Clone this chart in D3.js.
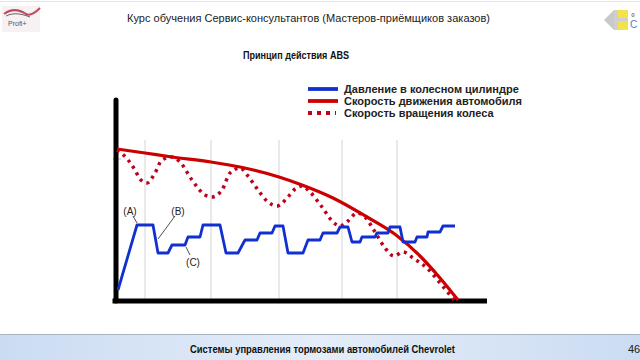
<!DOCTYPE html>
<html><head><meta charset="utf-8">
<script src="https://cdn.jsdelivr.net/npm/d3@7"></script>
<style>html,body{margin:0;padding:0;background:#fff;overflow:hidden}svg{display:block}</style>
</head><body>
<svg id="c" width="640" height="360"></svg>
<script>
// ---- Data (time units, value units) ----
const headerText = "Курс обучения Сервис-консультантов (Мастеров-приёмщиков заказов)";
const chartTitle = "Принцип действия ABS";
const footerText = "Системы управления тормозами автомобилей Chevrolet";
const pageNumber = "46";
const seriesNames = ["Давление в колесном цилиндре", "Скорость движения автомобиля", "Скорость вращения колеса"];

const pressureT = [0.1,2.0,3.6,4.1,5.1,5.5,6.8,7.1,8.3,8.6,10.3,10.9,12.1,12.8,14.0,14.3,15.5,15.8,16.6,17.1,18.6,19.1,20.3,20.6,22.0,22.3,23.1,23.5,24.3,24.5,25.8,26.0,27.1,27.3,28.3,28.6,29.8,30.0,31.0,31.1,32.3,32.6,33.8];
const pressureV = [5,37.5,37.5,23.5,23.5,27.5,27.5,31.5,31.5,37.5,37.5,23.5,23.5,30,30,33.5,33.5,37,37,23.5,23.5,30,30,33.5,33.5,36.5,36.5,29,29,31.5,31.5,33.5,33.5,36.5,36.5,29,29,31.5,31.5,34,34,37,37];

const vehicleT = [0,2.8,5.5,9.4,12.3,16.2,18.5,21.6,25.0,27.9,30.3,32.3,34.1];
const vehicleV = [75.5,73.5,71.5,69,66.5,61.5,57.5,51,41.5,32.5,22,11,0];

const wheelT = [0,0.3,1.8,2.3,3.0,3.8,4.5,5.5,6.3,7.5,8.8,9.5,10.5,11.3,12.3,13.1,14.1,15.1,16.0,17.1,17.8,18.5,19.3,20.5,21.6,22.3,23.1,24.0,24.8,25.8,26.8,27.7,28.6,29.6,31.0,32.3,33.7];
const wheelV = [75,74,65,60.5,58.5,63.5,70,71.5,69,60,52.5,51.5,55,63.5,66,62,55,49,47,51.5,55.5,57,54,46.5,39,37,39.5,43.5,41.5,34,26,22,24,21,16,8.5,0];

const gridT = [2.8,9.4,16.2,22.5,28.0];
const annLabels = ["(A)","(B)","(C)"];
const annTextT = [1.3,6.1,7.6];
const annTextV = [44.5,44.5,19];
const annLineT1 = [1.6,5.8,7.3], annLineV1 = [42,42,22.5];
const annLineT2 = [2.0,4.1,6.9], annLineV2 = [38.5,30.5,26.5];

// ---- Drawing ----
const svg = d3.select("#c");
const x = d3.scaleLinear().domain([0,37]).range([117,487]);
const y = d3.scaleLinear().domain([0,100]).range([300,100]);
const FONT = "'Liberation Sans', Arial, sans-serif";

// header
svg.append("line").attr("x1",0).attr("x2",640).attr("y1",1.5).attr("y2",1.5).attr("stroke","#e4e4e4");
svg.append("text").attr("x",127).attr("y",22)
  .attr("font-family",FONT).attr("font-size",11.5).attr("fill","#222")
  .attr("textLength",363).attr("lengthAdjust","spacingAndGlyphs").text(headerText);
// left logo
const lg = svg.append("g");
lg.append("rect").attr("x",2).attr("y",6).attr("width",38).attr("height",26).attr("fill","#f6f2f4");
lg.append("path").attr("d","M4,14 C12,8 20,10 26,14 C30,16 36,12 40,8").attr("fill","none").attr("stroke","#c2475f").attr("stroke-width",2);
lg.append("path").attr("d","M6,16 C14,12 22,14 30,17").attr("fill","none").attr("stroke","#666").attr("stroke-width",1);
lg.append("text").attr("x",8).attr("y",26).attr("font-family",FONT).attr("font-size",7).attr("fill","#555").text("Profi+");
// right logo
const rg = svg.append("g");
rg.append("path").attr("d","M604,20 L614,10 L614,30 Z").attr("fill","#c9c9c9");
rg.append("rect").attr("x",614).attr("y",10).attr("width",14).attr("height",20).attr("fill","#cfcfcf");
rg.append("rect").attr("x",618).attr("y",10).attr("width",10).attr("height",8).attr("fill","#f2e34a");
rg.append("rect").attr("x",618).attr("y",21).attr("width",10).attr("height",9).attr("fill","#f2e34a");
rg.append("text").attr("x",631).attr("y",17).attr("font-family",FONT).attr("font-size",5).attr("fill","#666").text("Ф");
rg.append("text").attr("x",630).attr("y",28).attr("font-family",FONT).attr("font-size",10).attr("fill","#4a7fc0").text("C");

// title
svg.append("text").attr("x",243).attr("y",59)
  .attr("font-family",FONT).attr("font-weight","bold").attr("font-size",11).attr("fill","#111")
  .attr("textLength",106).attr("lengthAdjust","spacingAndGlyphs").text(chartTitle);

// gridlines
svg.append("g").selectAll("line").data(gridT).join("line")
  .attr("x1",d=>x(d)).attr("x2",d=>x(d)).attr("y1",y(80)).attr("y2",y(0))
  .attr("stroke","#d4d4d4").attr("stroke-width",1);

// small plus mark on axis
svg.append("path").attr("d",`M${x(0)-4},${y(70.5)} h8 M${x(0)},${y(70.5)-4} v8`).attr("stroke","#bbb").attr("stroke-width",1);

// axes
const xAxis = d3.axisBottom(x).tickValues([]).tickSizeOuter(0);
const yAxis = d3.axisLeft(y).tickValues([]).tickSizeOuter(0);
const gx = svg.append("g").attr("transform",`translate(0,${y(0)+1})`).call(xAxis);
gx.select(".domain").attr("stroke","#000").attr("stroke-width",5).attr("d",`M${x(-0.45)},0H${x(37)}`);
const gy = svg.append("g").attr("transform",`translate(-1,0)`).call(yAxis);
gy.select(".domain").attr("stroke","#000").attr("stroke-width",5).attr("stroke-linecap","round").attr("d",`M${x(0)},${y(100)}V${y(0)+1}`);

// lines
const line = (T,V,curve) => d3.line().x((d,i)=>x(T[i])).y((d,i)=>y(V[i])).curve(curve)(T);
svg.append("path").attr("d",line(wheelT,wheelV,d3.curveMonotoneX))
  .attr("fill","none").attr("stroke","#c0001c").attr("stroke-width",3.5).attr("stroke-dasharray","3,4.5");
svg.append("path").attr("d",line(vehicleT,vehicleV,d3.curveMonotoneX))
  .attr("fill","none").attr("stroke","#cc0000").attr("stroke-width",3.2);
svg.append("path").attr("d",line(pressureT,pressureV,d3.curveLinear))
  .attr("fill","none").attr("stroke","#1030d0").attr("stroke-width",2.8).attr("stroke-linejoin","round");

// annotations
const ann = svg.append("g");
annLabels.forEach((l,i)=>{
  ann.append("line").attr("x1",x(annLineT1[i])).attr("y1",y(annLineV1[i])).attr("x2",x(annLineT2[i])).attr("y2",y(annLineV2[i]))
    .attr("stroke","#222").attr("stroke-width",0.8);
  ann.append("text").attr("x",x(annTextT[i])).attr("y",y(annTextV[i])+3.5).attr("text-anchor","middle")
    .attr("font-family",FONT).attr("font-size",10).attr("fill","#222").text(l);
});

// legend
const legY = [89,101,113];
const lgd = svg.append("g");
lgd.append("line").attr("x1",308).attr("x2",338).attr("y1",legY[0]).attr("y2",legY[0]).attr("stroke","#1030d0").attr("stroke-width",3.8);
lgd.append("line").attr("x1",308).attr("x2",338).attr("y1",legY[1]).attr("y2",legY[1]).attr("stroke","#cc0000").attr("stroke-width",3.8);
lgd.append("line").attr("x1",308).attr("x2",336).attr("y1",legY[2]).attr("y2",legY[2]).attr("stroke","#c0001c").attr("stroke-width",3.8).attr("stroke-dasharray","4,5");
seriesNames.forEach((n,i)=>{
  lgd.append("text").attr("x",344).attr("y",legY[i]+4).attr("font-family",FONT)
    .attr("font-weight","bold").attr("font-size",11).attr("fill","#222").text(n);
});

// footer
const defs = svg.append("defs");
const gr = defs.append("linearGradient").attr("id","fg").attr("x1","0").attr("x2","1").attr("y1","0").attr("y2","0");
gr.append("stop").attr("offset","0%").attr("stop-color","#cbdcf2");
gr.append("stop").attr("offset","50%").attr("stop-color","#e4edf9");
gr.append("stop").attr("offset","100%").attr("stop-color","#cbdcf2");
svg.append("rect").attr("x",0).attr("y",335).attr("width",640).attr("height",25).attr("fill","url(#fg)");
svg.append("line").attr("x1",0).attr("x2",640).attr("y1",334.5).attr("y2",334.5).attr("stroke","#a9b3c0");
svg.append("text").attr("x",190).attr("y",353)
  .attr("font-family",FONT).attr("font-weight","bold").attr("font-size",10.5).attr("fill","#111")
  .attr("textLength",265).attr("lengthAdjust","spacingAndGlyphs").text(footerText);
svg.append("text").attr("x",628).attr("y",353).attr("font-family",FONT).attr("font-size",11).attr("fill","#222").text(pageNumber);
</script>
</body></html>
